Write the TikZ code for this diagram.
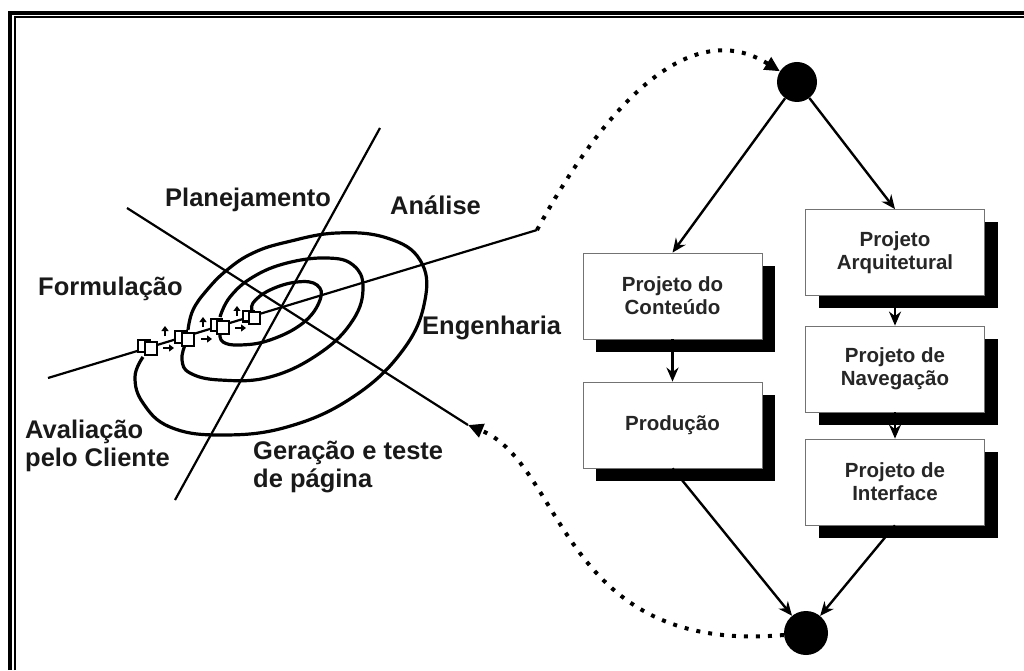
\documentclass[tikz,border=0pt]{standalone}
\usepackage{fontspec}
\setmainfont{Liberation Sans}
\usepackage{tikz}
\usetikzlibrary{arrows.meta, shadows}
\tikzset{
    cubo/.pic={
        \draw[line width=2pt, fill=white] (-10,-5) rectangle (2,7);
        \draw[line width=2pt, fill=white] (-3,-8) rectangle (9,5);
    }
}

\begin{document}
\begin{tikzpicture}[
    x=1pt, y=1pt,
    caixa/.style={rectangle, draw=black!55, line width=0.8pt, fill=white, text=black!85,
        minimum width=179pt, minimum height=86pt, align=center,
        font=\fontsize{20.5}{23}\selectfont\bfseries,
        drop shadow={shadow xshift=13pt, shadow yshift=-13pt, opacity=1, fill=black}},
    ponto/.style={circle, fill=black, inner sep=0pt},
    rot/.style={font=\fontsize{25.5}{28}\selectfont\bfseries, inner sep=0pt, text=black!90},
    arr/.style={-{Stealth[length=14pt, width=12pt]}, line width=2.4pt},
    pont/.style={-{Triangle[length=15pt, width=14pt]}, line width=4pt, dash pattern=on 4pt off 8pt},
    eixo/.style={line width=2.2pt},
    volta/.style={line width=3.2pt},
    seta/.style={-{Triangle[length=5pt, width=7pt]}, line width=2.2pt}
]
\useasboundingbox (0,0) rectangle (1024,670);
% Frame
\draw[line width=4pt] (10,0) -- (10,657) -- (1024,657);
\draw[line width=1.8pt] (15,0) -- (15,653) -- (1024,653);

% Spiral axes
\coordinate (planTop) at (380,542);
\coordinate (avalBot) at (175,170);
\coordinate (formIni) at (127,462);
\coordinate (gerEnd)  at (468,245);
\coordinate (avalIni) at (48,292);
\coordinate (anaEnd)  at (537,440);
\draw[eixo] (planTop) -- (avalBot);
\draw[eixo] (formIni) -- (gerEnd);
\draw[eixo] (avalIni) -- (anaEnd);

% Spiral loops
\draw[volta] plot[smooth, tension=0.7] coordinates {(143,313) (135,293) (143,267) (170,243) (220,235) (287,243) (353,273) (403,320) (425,370) (420,410) (387,432) (337,437) (287,428) (253,417) (227,400) (207,380) (193,360) (188,340)};
\draw[volta] plot[smooth, tension=0.7] coordinates {(185,325) (182,310) (190,297) (220,290) (270,293) (320,317) (353,350) (363,383) (353,405) (327,412) (287,407) (253,393) (230,373) (220,353)};
\draw[volta] plot[smooth, tension=0.7] coordinates {(220,337) (223,328) (240,325) (270,330) (303,347) (320,370) (317,385) (297,388) (270,380) (253,367) (253,357)};

% Prototypes
\foreach \p/\s in {(148,323)/1, (185,332)/1, (220,344)/0.95, (252,353)/0.9}
    \pic[scale=\s] at \p {cubo};
\foreach \x/\y in {165/322, 203/331, 237/342} {
    \draw[seta] (\x,\y+12) -- ++(0,10);
    \draw[seta] (\x-2,\y) -- ++(11,0);
}

% Spiral labels
\node[rot, anchor=base west] (plan) at (165,463) {Planejamento};
\node[rot, anchor=base west] (ana)  at (390,455) {Análise};
\node[rot, anchor=base west] (form) at (38,374)  {Formulação};
\node[rot, anchor=base west] (eng)  at (422,336) {Engenharia};
\node[rot, anchor=base west, align=left] (aval) at (25,204)  {Avaliação\\pelo Cliente};
\node[rot, anchor=base west, align=left] (ger)  at (253,183) {Geração e teste\\de página};

% Engineering activities
\node[ponto, minimum size=40pt] (ini) at (797,588) {};
\node[caixa] (cont) at (672.5,374) {Projeto do\\Conteúdo};
\node[caixa] (prod) at (672.5,245) {Produção};
\node[caixa] (arq)  at (895,417.5) {Projeto\\Arquitetural};
\node[caixa] (nav)  at (895,301)   {Projeto de\\Navegação};
\node[caixa] (intf) at (895,188)   {Projeto de\\Interface};
\node[ponto, minimum size=44pt] (fim) at (806,37) {};

\draw[arr] (ini) -- (cont.north);
\draw[arr] (ini) -- (arq.north);
\draw[arr] (cont) -- (prod);
\draw[arr] (arq) -- (nav);
\draw[arr] (nav) -- (intf);
\draw[arr] (prod.south) -- (fim);
\draw[arr] (intf.south) -- (fim);

% Links back to the spiral
\draw[pont] (anaEnd) .. controls (605,565) and (690,655) .. (ini);
\draw[pont] (fim) .. controls (560,15) and (565,205) .. (gerEnd);
\end{tikzpicture}
\end{document}
